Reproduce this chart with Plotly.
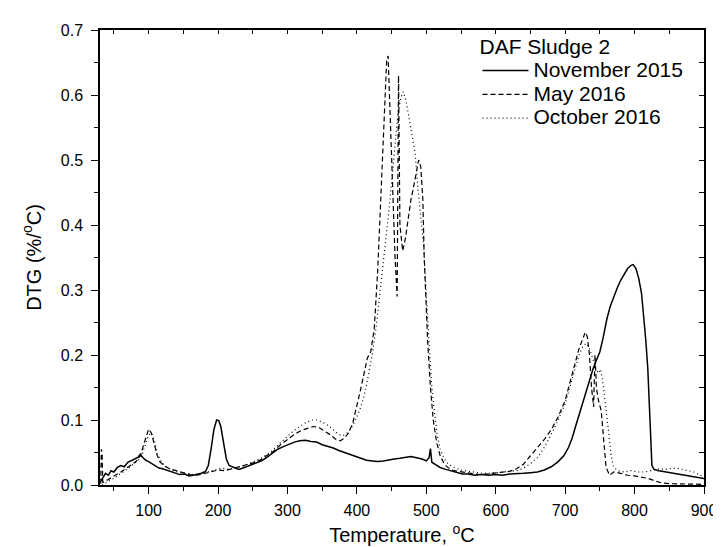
import plotly.graph_objects as go

# ---- data ----
nov_x = [30, 32, 35, 38, 42, 46, 50, 55, 60, 65, 70, 75, 80, 85, 88, 92, 96, 100, 105, 110, 115, 120, 126, 132, 138, 145, 152, 158, 164, 170, 176, 182, 186, 190, 194, 198, 201, 204, 208, 212, 216, 222, 230, 238, 246, 254, 262, 270, 278, 286, 294, 302, 310, 318, 326, 334, 342, 350, 358, 366, 374, 382, 390, 398, 406, 414, 422, 430, 438, 446, 454, 462, 470, 478, 486, 494, 500, 504, 506, 508, 514, 520, 528, 536, 544, 552, 560, 570, 580, 590, 600, 610, 620, 630, 640, 650, 660, 670, 680, 690, 698, 705, 710, 715, 720, 725, 730, 735, 740, 745, 750, 755, 760, 765, 770, 775, 780, 785, 790, 795, 798, 802, 806, 810, 813, 816, 819, 821, 823, 825, 828, 835, 845, 855, 865, 875, 885, 895, 900]
nov_y = [0.004, 0.008, 0.012, 0.018, 0.015, 0.022, 0.02, 0.027, 0.03, 0.028, 0.035, 0.037, 0.04, 0.043, 0.047, 0.042, 0.038, 0.036, 0.033, 0.03, 0.026, 0.025, 0.023, 0.02, 0.019, 0.016, 0.017, 0.014, 0.015, 0.016, 0.018, 0.021, 0.03, 0.055, 0.085, 0.1, 0.099, 0.09, 0.066, 0.04, 0.03, 0.027, 0.024, 0.027, 0.03, 0.033, 0.037, 0.042, 0.048, 0.055, 0.059, 0.063, 0.066, 0.068, 0.069, 0.067, 0.066, 0.062, 0.06, 0.057, 0.053, 0.05, 0.046, 0.043, 0.04, 0.038, 0.037, 0.036, 0.037, 0.039, 0.04, 0.041, 0.043, 0.044, 0.042, 0.04, 0.037, 0.042, 0.056, 0.035, 0.031, 0.027, 0.024, 0.022, 0.019, 0.017, 0.017, 0.015, 0.016, 0.015, 0.016, 0.015, 0.017, 0.017, 0.018, 0.019, 0.02, 0.023, 0.028, 0.036, 0.045, 0.058, 0.072, 0.09, 0.108, 0.125, 0.142, 0.158, 0.178, 0.192, 0.205, 0.228, 0.255, 0.275, 0.29, 0.303, 0.315, 0.325, 0.333, 0.338, 0.339, 0.333, 0.318, 0.295, 0.265, 0.225, 0.18, 0.14, 0.08, 0.03, 0.024, 0.022, 0.02, 0.018, 0.016, 0.015, 0.013, 0.011, 0.01]

may_x = [31, 32, 33, 34, 38, 45, 52, 60, 68, 75, 82, 88, 92, 96, 100, 104, 108, 112, 116, 122, 130, 140, 150, 160, 170, 180, 190, 200, 210, 220, 230, 240, 250, 260, 270, 280, 290, 300, 310, 320, 330, 338, 346, 354, 362, 370, 376, 382, 388, 394, 400, 405, 410, 415, 420, 425, 430, 434, 437, 440, 443, 445, 447, 449, 452, 455, 458, 460, 462, 466, 470, 474, 478, 482, 486, 489, 492, 495, 497, 499, 502, 506, 510, 515, 520, 526, 532, 540, 550, 560, 570, 580, 590, 600, 610, 620, 630, 640, 650, 660, 670, 680, 690, 700, 708, 715, 720, 725, 729, 732, 735, 738, 741, 743, 745, 748, 752, 756, 759, 764, 770, 780, 790, 800, 810, 820, 830, 840, 850, 860, 870, 880, 890, 900]
may_y = [0.002, 0.055, 0.05, 0.004, 0.006, 0.01, 0.015, 0.02, 0.026, 0.03, 0.036, 0.045, 0.06, 0.075, 0.086, 0.08, 0.062, 0.047, 0.036, 0.03, 0.025, 0.022, 0.018, 0.016, 0.015, 0.018, 0.021, 0.023, 0.022, 0.025, 0.027, 0.03, 0.034, 0.038, 0.045, 0.052, 0.062, 0.07, 0.078, 0.084, 0.088, 0.09, 0.088, 0.083, 0.077, 0.07, 0.068, 0.072, 0.08, 0.095, 0.12, 0.145, 0.17, 0.195, 0.205, 0.24, 0.33, 0.43, 0.52, 0.6, 0.655, 0.66, 0.6, 0.52, 0.45, 0.35, 0.29, 0.63, 0.4, 0.36, 0.38, 0.41, 0.44, 0.46, 0.48, 0.5, 0.49, 0.44, 0.35, 0.29, 0.22, 0.15, 0.1, 0.065, 0.045, 0.032, 0.026, 0.022, 0.02, 0.018, 0.017, 0.016, 0.017, 0.018, 0.019, 0.021, 0.025, 0.032, 0.045, 0.058, 0.07, 0.085, 0.105, 0.13, 0.16, 0.19, 0.21, 0.225, 0.235, 0.228, 0.2, 0.15, 0.12, 0.2, 0.15, 0.13, 0.114, 0.063, 0.027, 0.015, 0.02, 0.018, 0.015, 0.014, 0.012, 0.01, 0.006, 0.003, 0.002, 0.002, 0.001, 0.001, 0.001, 0.001]

oct_x = [33, 40, 48, 55, 62, 70, 78, 85, 90, 95, 100, 104, 108, 112, 118, 125, 135, 145, 155, 165, 175, 185, 195, 205, 215, 225, 235, 245, 255, 265, 275, 285, 295, 305, 315, 325, 335, 342, 350, 358, 366, 374, 380, 386, 392, 398, 404, 410, 416, 422, 428, 434, 440, 445, 450, 455, 459, 463, 467, 471, 475, 480, 484, 488, 492, 496, 500, 504, 508, 512, 516, 520, 526, 532, 540, 550, 560, 570, 580, 590, 600, 610, 620, 630, 640, 650, 660, 670, 680, 690, 700, 708, 715, 720, 725, 730, 735, 740, 744, 748, 751, 754, 757, 760, 763, 766, 770, 776, 785, 795, 805, 815, 825, 835, 845, 855, 865, 875, 885, 895, 900]
oct_y = [0.0, 0.004, 0.009, 0.014, 0.019, 0.025, 0.032, 0.038, 0.045, 0.06, 0.077, 0.08, 0.07, 0.05, 0.036, 0.028, 0.022, 0.019, 0.017, 0.016, 0.017, 0.02, 0.024, 0.026, 0.024, 0.026, 0.029, 0.033, 0.037, 0.043, 0.05, 0.06, 0.07, 0.08, 0.088, 0.095, 0.1, 0.1, 0.097, 0.092, 0.085, 0.078, 0.076, 0.08, 0.088, 0.1, 0.115, 0.135, 0.165, 0.2, 0.245, 0.3, 0.36, 0.41, 0.465, 0.53, 0.57, 0.595, 0.605, 0.59, 0.565, 0.535, 0.51, 0.455, 0.41, 0.37, 0.29, 0.21, 0.15, 0.11, 0.075, 0.055, 0.04, 0.032, 0.027, 0.023, 0.021, 0.019, 0.018, 0.018, 0.019, 0.019, 0.02, 0.022, 0.026, 0.033, 0.042, 0.058, 0.078, 0.1, 0.125, 0.155, 0.185, 0.2, 0.212, 0.218, 0.21, 0.195, 0.18, 0.172, 0.178, 0.16, 0.135, 0.105, 0.078, 0.047, 0.027, 0.022, 0.02, 0.022, 0.02, 0.02, 0.022, 0.025, 0.024, 0.026, 0.025, 0.022, 0.02, 0.015, 0.012]

x_range = [30, 900]
y_range = [0, 0.7]
x_tickvals = [100, 200, 300, 400, 500, 600, 700, 800, 900]
legend_title = "DAF Sludge 2"
series_names = ["November 2015", "May 2016", "October 2016"]

FONT = "Liberation Sans, Arial, sans-serif"


def big(name):
    return '<span style="font-size:21px">' + name + '</span>'


fig = go.Figure()
fig.add_trace(go.Scatter(x=nov_x, y=nov_y, mode="lines", name=big(series_names[0]),
                         line=dict(color="black", width=1.5)))
fig.add_trace(go.Scatter(x=may_x, y=may_y, mode="lines", name=big(series_names[1]),
                         line=dict(color="black", width=1.2, dash="5px,3px")))
fig.add_trace(go.Scatter(x=oct_x, y=oct_y, mode="lines", name=big(series_names[2]),
                         line=dict(color="black", width=1.2, dash="1px,3px")))
# empty trace to carry the mirrored top/right tick axes
fig.add_trace(go.Scatter(x=[], y=[], xaxis="x2", yaxis="y2", showlegend=False,
                         hoverinfo="skip"))

fig.update_layout(
    width=721, height=547,
    margin=dict(l=92, r=17, t=22, b=70),
    paper_bgcolor="white", plot_bgcolor="white",
    font=dict(family=FONT, color="black", size=16),
    showlegend=True,
    legend=dict(
        title=dict(text=legend_title, font=dict(size=21)),
        font=dict(size=16),
        x=0.625, y=1.008, xanchor="left", yanchor="top",
        bgcolor="rgba(0,0,0,0)", borderwidth=0,
        itemwidth=46, tracegroupgap=0,
    ),
    xaxis=dict(
        range=x_range, tickmode="array", tickvals=x_tickvals,
        ticks="outside", ticklen=7, tickwidth=1.3, tickcolor="black",
        minor=dict(ticks="outside", ticklen=4, tickwidth=1.3, tickcolor="black", dtick=50, tick0=0),
        showline=True, linecolor="black", linewidth=1.5, mirror=True,
        showgrid=False, zeroline=False,
        tickfont=dict(size=16), ticklabelstandoff=3,
        title=dict(text="Temperature, <sup>o</sup>C", font=dict(size=20), standoff=10),
    ),
    yaxis=dict(
        range=y_range, dtick=0.1, tick0=0, tickformat=".1f",
        ticks="outside", ticklen=7, tickwidth=1.3, tickcolor="black",
        minor=dict(ticks="outside", ticklen=4, tickwidth=1.3, tickcolor="black", dtick=0.05, tick0=0),
        showline=True, linecolor="black", linewidth=1.5, mirror=True,
        showgrid=False, zeroline=False,
        tickfont=dict(size=16), ticklabelstandoff=5,
        title=dict(text="DTG (%/<sup>o</sup>C)", font=dict(size=20), standoff=14),
    ),
    xaxis2=dict(
        range=x_range, overlaying="x", side="top", anchor="y2",
        dtick=50, tick0=0, ticks="inside", ticklen=4, tickwidth=1.3, tickcolor="black",
        showticklabels=False, showline=False, showgrid=False, zeroline=False,
    ),
    yaxis2=dict(
        range=y_range, overlaying="y", side="right", anchor="x2",
        dtick=0.05, tick0=0, ticks="inside", ticklen=5, tickwidth=1.3, tickcolor="black",
        showticklabels=False, showline=False, showgrid=False, zeroline=False,
    ),
)

fig.write_html("out.html")
